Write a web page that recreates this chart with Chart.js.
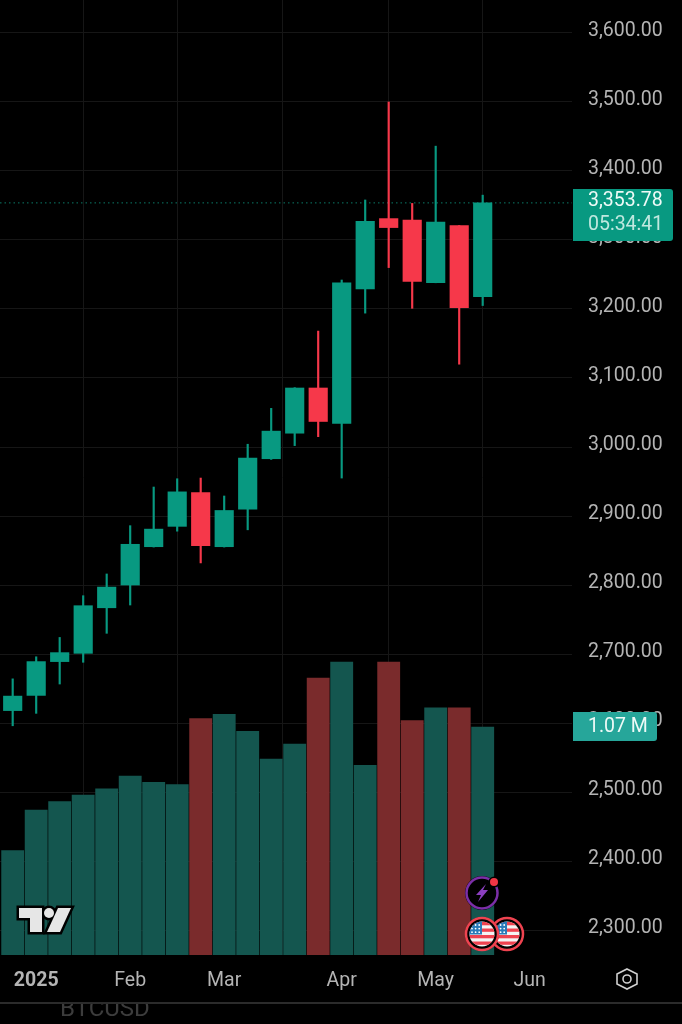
<!DOCTYPE html>
<html><head><meta charset="utf-8">
<style>html,body{margin:0;padding:0;background:#000;overflow:hidden}canvas{display:block}</style>
<script src="https://cdn.jsdelivr.net/npm/chart.js@4"></script>
</head><body><canvas id="c" width="682" height="1024"></canvas>
<script>
const opens  =[2618,2640,2689,2701,2767,2800,2855.5,2885,2934,2855.5,2910,2983,3020,3085.5,3034,3229,3331,3329,3238,3321,3218];
const closes =[2639,2689,2702,2770,2797,2859,2881,2935,2857,2908,2984,3023,3085.5,3037,3238,3327,3318,3240,3326,3202,3353.78];
const highs  =[2664,2696,2724,2784.5,2816,2886,2942,2954,2955,2929,3004,3056,3086,3168,3242,3358,3500,3353,3436,3321,3365];
const lows   =[2596,2614,2656.5,2688,2730,2771,2855,2878,2832,2855,2880,2982,3002,3015,2955,3194,3260,3201,3238,3120,3205];
const volumes=[0.49,0.68,0.72,0.75,0.78,0.84,0.81,0.80,1.11,1.13,1.05,0.92,0.99,1.30,1.375,0.89,1.375,1.10,1.16,1.16,1.07];
const priceTicks=[2300,2400,2500,2600,2700,2800,2900,3000,3100,3200,3300,3400,3500,3600];
const monthPositions=[1,5,9,14,18,22];
const monthLabels=['2025','Feb','Mar','Apr','May','Jun'];
const lastPriceText='3,353.78', countdownText='05:34:41', lastVolumeText='1.07 M', symbolText='BTCUSD';

const UP='#089981',DOWN='#f6384a',UPV='#14564f',DOWNV='#7a2b2c',FONT='Roboto, sans-serif';
const isUp=i=>closes[i]>=opens[i];
const colorOf=(a,b)=>opens.map((_,i)=>isUp(i)?a:b);

function flag(ctx,x,y){
  ctx.save();
  ctx.beginPath();ctx.arc(x,y,17,0,7);ctx.fillStyle='#000';ctx.fill();
  ctx.beginPath();ctx.arc(x,y,16,0,7);ctx.strokeStyle='#ef4350';ctx.lineWidth=2.5;ctx.stroke();
  ctx.beginPath();ctx.arc(x,y,12.5,0,7);ctx.clip();
  ctx.fillStyle='#f4f4f4';ctx.fillRect(x-13,y-13,26,26);
  ctx.fillStyle='#ef4350';
  for(let k=0;k<4;k++)ctx.fillRect(x-13,y-12+k*6.5,26,3.3);
  ctx.fillStyle='#2a7bb8';ctx.fillRect(x-13,y-13,13,13.5);
  ctx.fillStyle='#fff';
  for(let r=0;r<3;r++)for(let k=0;k<3;k++){ctx.beginPath();ctx.arc(x-10+k*3.6,y-9+r*3.6,.9,0,7);ctx.fill();}
  ctx.restore();
}
const decor={id:'decor',
  beforeDatasetsDraw(ch){
    const c=ch.ctx,y=ch.scales.y.getPixelForValue(closes[closes.length-1]);
    c.save();c.strokeStyle='#0b7a68';c.lineWidth=1;c.setLineDash([1.5,3]);
    c.beginPath();c.moveTo(0,y);c.lineTo(ch.chartArea.right,y);c.stroke();c.restore();
  },
  afterDraw(ch){
    const c=ch.ctx,A=ch.chartArea,py=ch.scales.y.getPixelForValue(closes[closes.length-1]),
          vy=ch.scales.y2.getPixelForValue(volumes[volumes.length-1]);
    c.save();
    // price badge
    c.fillStyle=UP;c.beginPath();c.roundRect(A.right+1,py-14,100,52,[0,3,3,0]);c.fill();
    c.textAlign='left';c.textBaseline='middle';c.font='19.5px '+FONT;
    c.fillStyle='#eefaf7';c.fillText(lastPriceText,588,py-1.5);
    c.fillStyle='#bfe8df';c.fillText(countdownText,588,py+22);
    // volume badge
    c.fillStyle='#26a69a';c.beginPath();c.roundRect(A.right+1,vy-15,84,29,[0,3,3,0]);c.fill();
    c.fillStyle='#eefaf7';c.fillText(lastVolumeText,588,vy+0.5);
    // logo
    c.lineJoin='miter';c.lineWidth=5;c.strokeStyle='#000';c.fillStyle='#e6e6e6';
    const T=new Path2D('M19 908H42V932H30V918H19Z'),V=new Path2D('M58 908H71L60 932H47Z'),D=new Path2D();
    D.arc(49,913,5,0,7);
    [T,V,D].forEach(p=>{c.stroke(p)});[T,V,D].forEach(p=>{c.fill(p)});
    // event icons
    flag(c,507,934);flag(c,482,934);
    c.beginPath();c.arc(482,893,17,0,7);c.fillStyle='#000';c.fill();
    c.beginPath();c.arc(482,893,15.5,0,7);c.strokeStyle='#7b2fa8';c.lineWidth=2.5;c.stroke();
    c.fillStyle='#8b3fc0';c.fill(new Path2D('M486 884L476 895H481L478 902L488 890H483Z'));
    c.beginPath();c.arc(494,882,5.5,0,7);c.fillStyle='#000';c.fill();
    c.beginPath();c.arc(494,882,4,0,7);c.fillStyle='#f23645';c.fill();
    // hex settings glyph
    c.strokeStyle='#d0d0d0';c.lineWidth=1.6;c.beginPath();
    [[627,969],[637,974],[637,984],[627,989],[617,984],[617,974]].forEach((p,i)=>i?c.lineTo(p[0],p[1]):c.moveTo(p[0],p[1]));
    c.closePath();c.stroke();
    c.beginPath();c.arc(627,979,4,0,7);c.stroke();
    // strip under the chart
    c.fillStyle='#3c3c3c';c.font='24px '+FONT;c.textBaseline='middle';c.fillText(symbolText,60,1010);
    c.fillStyle='#000';c.fillRect(0,990,682,13);
    c.fillStyle='#2b2b2b';c.fillRect(0,1002,682,2);
    c.restore();
  }};

const idx=opens.map((_,i)=>i);
new Chart(document.getElementById('c'),{
  type:'bar',
  data:{datasets:[
    {label:'Volume',yAxisID:'y2',order:3,grouped:false,barThickness:22.2,
     data:idx.map(i=>({x:i,y:volumes[i]})),backgroundColor:colorOf(UPV,DOWNV)},
    {label:'Wick',yAxisID:'y',order:2,grouped:false,barThickness:1.5,
     data:idx.map(i=>({x:i,y:[lows[i],highs[i]]})),backgroundColor:colorOf(UP,DOWN)},
    {label:'Body',yAxisID:'y',order:1,grouped:false,barThickness:18.5,
     data:idx.map(i=>({x:i,y:[opens[i],closes[i]]})),backgroundColor:colorOf(UP,DOWN)}
  ]},
  plugins:[decor],
  options:{
    responsive:false,animation:false,devicePixelRatio:1,
    layout:{padding:0},
    plugins:{legend:{display:false},tooltip:{enabled:false},title:{display:false}},
    scales:{
      x:{type:'linear',min:-0.54,max:23.8,offset:false,
         afterBuildTicks(s){s.ticks=monthPositions.map(v=>({value:v}));},
         afterFit(s){s.height=69;s.paddingLeft=0;s.paddingRight=0;},
         grid:{color:'#161616',lineWidth:1,drawTicks:false},border:{display:false},
         ticks:{autoSkip:false,maxRotation:0,padding:14,color:'#b4b4b4',
           callback:v=>monthLabels[monthPositions.indexOf(v)],
           font:ctx=>({family:FONT,size:19.5,weight:ctx.index===0?'bold':'normal'})}},
      y:{type:'linear',position:'right',min:2263.8,max:3647.8,
         afterBuildTicks(s){s.ticks=priceTicks.map(v=>({value:v}));},
         afterFit(s){s.width=110;s.paddingTop=0;s.paddingBottom=0;},
         grid:{color:'#161616',lineWidth:1,drawTicks:false},border:{display:false},
         ticks:{padding:16,color:'#b4b4b4',labelOffset:-2,font:{family:FONT,size:19.5},
           callback:v=>v.toLocaleString('en-US',{minimumFractionDigits:2,maximumFractionDigits:2})}},
      y2:{type:'linear',display:false,min:0,max:4.482}
    }
  }
});
</script></body></html>
